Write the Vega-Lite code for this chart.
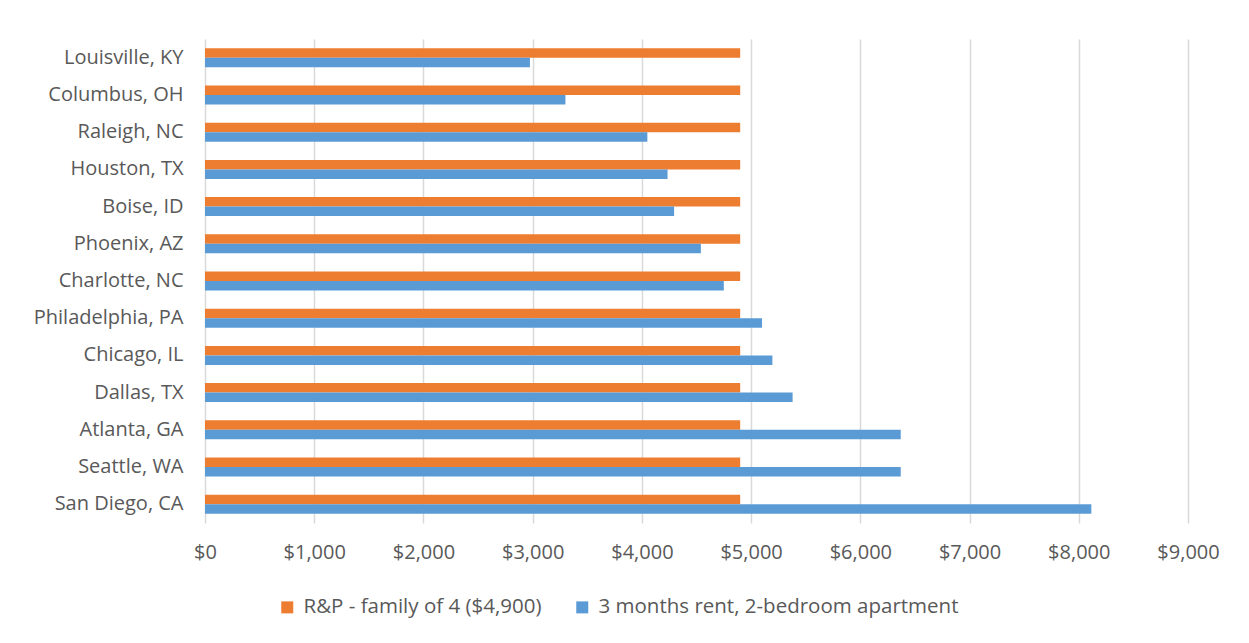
{
  "$schema": "https://vega.github.io/schema/vega-lite/v6.json",
  "width": 983,
  "height": 484,
  "autosize": {"type": "none"},
  "padding": {"left": 205, "top": 39, "right": 61, "bottom": 120},
  "background": "white",
  "config": {
    "view": {"stroke": null},
    "font": "Open Sans",
    "axis": {"labelFont": "Open Sans", "labelColor": "#595959", "labelFontSize": 20},
    "legend": {"labelFont": "Open Sans", "labelColor": "#595959", "labelFontSize": 20.5}
  },
  "data": {
    "values": [
      {"city": "Louisville, KY", "series": "R&P - family of 4 ($4,900)", "value": 4900},
      {"city": "Louisville, KY", "series": "3 months rent, 2-bedroom apartment", "value": 2975},
      {"city": "Columbus, OH", "series": "R&P - family of 4 ($4,900)", "value": 4900},
      {"city": "Columbus, OH", "series": "3 months rent, 2-bedroom apartment", "value": 3300},
      {"city": "Raleigh, NC", "series": "R&P - family of 4 ($4,900)", "value": 4900},
      {"city": "Raleigh, NC", "series": "3 months rent, 2-bedroom apartment", "value": 4050},
      {"city": "Houston, TX", "series": "R&P - family of 4 ($4,900)", "value": 4900},
      {"city": "Houston, TX", "series": "3 months rent, 2-bedroom apartment", "value": 4235},
      {"city": "Boise, ID", "series": "R&P - family of 4 ($4,900)", "value": 4900},
      {"city": "Boise, ID", "series": "3 months rent, 2-bedroom apartment", "value": 4295},
      {"city": "Phoenix, AZ", "series": "R&P - family of 4 ($4,900)", "value": 4900},
      {"city": "Phoenix, AZ", "series": "3 months rent, 2-bedroom apartment", "value": 4540},
      {"city": "Charlotte, NC", "series": "R&P - family of 4 ($4,900)", "value": 4900},
      {"city": "Charlotte, NC", "series": "3 months rent, 2-bedroom apartment", "value": 4750},
      {"city": "Philadelphia, PA", "series": "R&P - family of 4 ($4,900)", "value": 4900},
      {"city": "Philadelphia, PA", "series": "3 months rent, 2-bedroom apartment", "value": 5100},
      {"city": "Chicago, IL", "series": "R&P - family of 4 ($4,900)", "value": 4900},
      {"city": "Chicago, IL", "series": "3 months rent, 2-bedroom apartment", "value": 5195},
      {"city": "Dallas, TX", "series": "R&P - family of 4 ($4,900)", "value": 4900},
      {"city": "Dallas, TX", "series": "3 months rent, 2-bedroom apartment", "value": 5380},
      {"city": "Atlanta, GA", "series": "R&P - family of 4 ($4,900)", "value": 4900},
      {"city": "Atlanta, GA", "series": "3 months rent, 2-bedroom apartment", "value": 6370},
      {"city": "Seattle, WA", "series": "R&P - family of 4 ($4,900)", "value": 4900},
      {"city": "Seattle, WA", "series": "3 months rent, 2-bedroom apartment", "value": 6370},
      {"city": "San Diego, CA", "series": "R&P - family of 4 ($4,900)", "value": 4900},
      {"city": "San Diego, CA", "series": "3 months rent, 2-bedroom apartment", "value": 8115}
    ]
  },
  "mark": {"type": "bar"},
  "encoding": {
    "y": {
      "field": "city",
      "type": "nominal",
      "sort": null,
      "scale": {"paddingInner": 0.49, "paddingOuter": 0.25},
      "axis": {"title": null, "ticks": false, "domain": false, "labelPadding": 22}
    },
    "yOffset": {
      "field": "series",
      "type": "nominal",
      "sort": ["R&P - family of 4 ($4,900)", "3 months rent, 2-bedroom apartment"]
    },
    "x": {
      "field": "value",
      "type": "quantitative",
      "scale": {"domain": [0, 9000], "nice": false},
      "axis": {
        "title": null,
        "format": "$,.0f",
        "values": [0, 1000, 2000, 3000, 4000, 5000, 6000, 7000, 8000, 9000],
        "ticks": false,
        "domain": false,
        "grid": true,
        "gridColor": "#D9D9D9",
        "gridWidth": 1.5,
        "labelFlush": false,
        "labelPadding": 19
      }
    },
    "color": {
      "field": "series",
      "type": "nominal",
      "scale": {
        "domain": ["R&P - family of 4 ($4,900)", "3 months rent, 2-bedroom apartment"],
        "range": ["#ED7D31", "#5B9BD5"]
      },
      "legend": {
        "title": null,
        "orient": "none",
        "direction": "horizontal",
        "legendX": 72,
        "legendY": 558,
        "symbolType": "square",
        "symbolSize": 144,
        "symbolStrokeWidth": 0,
        "labelOffset": 6,
        "columnPadding": 30,
        "labelLimit": 600
      }
    }
  }
}
